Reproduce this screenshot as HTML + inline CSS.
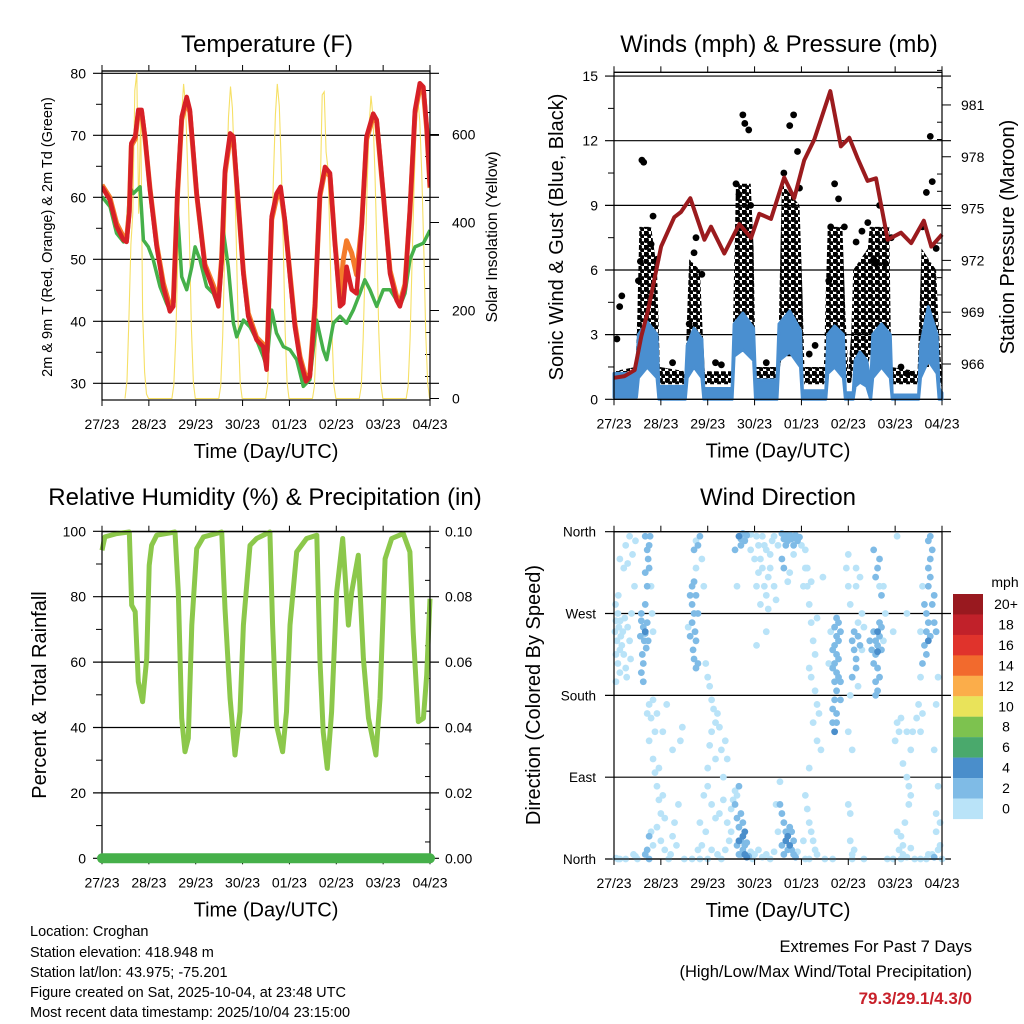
<!DOCTYPE html>
<html><head><meta charset="utf-8">
<style>
html,body{margin:0;padding:0;background:#fff;}
svg{display:block;font-family:"Liberation Sans",Arial,sans-serif;}
</style></head>
<body>
<svg id="chart" width="1024" height="1024" viewBox="0 0 1024 1024" xmlns="http://www.w3.org/2000/svg">
<defs>
<pattern id="dots" patternUnits="userSpaceOnUse" width="7" height="7">
<circle cx="2" cy="2" r="3" fill="#000"/>
<circle cx="5.5" cy="5.5" r="2.4" fill="#000"/>
</pattern>
</defs>
</svg>
<script>
// ---------- DATA ----------
const dayLabels = ["27/23","28/23","29/23","30/23","01/23","02/23","03/23","04/23"];
const tempHours = [0,4,7.5,11,12.6,14,15,17,18.6,20.3,22,24.6,28,31.4,34.8,36.5,38.6,40.8,43.4,45,48.5,52.7,57,59.6,61.3,63,65.6,67.3,69.8,72.4,74.9,79.2,82.6,84.3,86.9,89.4,91.5,93.7,96.3,98.8,101.4,104.5,106.5,109.1,111.6,114.2,116.8,119.3,121.9,123.6,125.3,127.9,130.4,133,135.5,138.9,140.7,144.1,147.5,150.9,152.6,155.2,157.7,160.3,162.8,164.6,166.3,168];
const tempRed = [61.7,59.6,55.3,53.1,52.8,57.4,68.7,69.8,74.1,74.1,69.8,61.2,52,45.6,41.6,42.4,60.6,73,76.2,74.1,60.6,48.8,45.1,42.4,49.9,64.4,70.3,69.8,59,47.7,40.8,37,35.9,32.2,56.9,60.6,61.7,56.3,47.2,39.1,33.8,30.3,31.1,42.4,60.6,64.9,63.9,52.6,42.4,42.9,48.8,45.1,44.5,55.3,69.8,73.5,72.5,60.6,47.7,43.4,42.4,45.6,58,74.1,78.4,77.8,71.4,61.7];
const tempOrange = [62,60,55.8,53.6,53.3,57.8,68.3,69.4,73.6,73.8,69.5,61.4,52.4,46.2,42.4,43.1,60.2,72.5,75.6,73.7,60.4,49.2,45.8,43.4,50.3,63.8,69.6,69.2,58.8,48,41.3,37.4,36.3,32.8,56.4,59.8,61,56,47.6,39.6,34.3,30.8,31.6,42.8,60.2,64.3,63.4,52.8,43.6,50,53,51,47.5,55.6,69.3,73,72.1,60.4,48.2,44,43,46,57.6,73.6,77.6,77.2,71,61.5];
const dewHours = [0,4.1,7.5,11,12.6,14.3,16,19.5,21.2,23.7,26.3,29.7,33.1,34.8,36.5,38.6,40.8,43.4,46,47.7,50.2,53.6,57,59.6,62.1,64.7,67.3,69,72.4,75.8,79.2,82.6,84.3,86.9,89.4,92.9,96.3,99.7,103.1,106.5,109.9,113.3,115.1,118.5,121.9,125.3,128.7,132.1,134.6,137.2,140.7,144.1,147.5,150.9,152.6,155.2,157.7,160.3,164.6,168];
const dewVals = [60.1,58.5,54.2,52.8,53.1,61.7,60.6,61.7,53.1,52,49.9,45.6,42.9,41.8,43.4,58,47.2,45.1,48.8,52,49.9,45.6,44.5,42.4,54.7,48.8,39.7,37.5,40.2,39.1,37,34.3,32.7,41.8,38.1,35.9,35.4,33.8,29.5,30.6,40.2,35.4,33.8,39.7,40.8,39.7,41.8,44.5,46.7,45.1,42.4,45.1,45.1,43.4,42.4,44.5,49.9,52,52.6,54.7];
const solarHours = [11.8,12.8,13.8,14.8,15.8,16.8,17.8,18.8,19.8,20.8,21.8,22.8,23.8,
 35.8,36.8,37.8,38.8,39.8,40.8,41.8,42.8,43.8,44.8,45.8,46.8,47.8,
 59.8,60.8,61.8,62.8,63.8,64.8,65.8,66.8,67.8,68.8,69.8,70.8,71.8,
 83.8,84.8,85.8,86.8,87.8,88.8,89.8,90.8,91.8,92.8,93.8,94.8,95.8,
 107.8,108.8,109.8,110.8,111.8,112.8,113.8,114.8,115.8,116.8,117.8,118.8,119.8,
 131.8,132.8,133.8,134.8,135.8,136.8,137.8,138.8,139.8,140.8,141.8,142.8,143.8,
 155.8,156.8,157.8,158.8,159.8,160.8,161.8,162.8,163.8,164.8,165.8,166.8,167.8];
const solarVals = [0,40,180,350,420,700,740,420,650,200,60,10,0,
 0,30,140,320,500,645,715,665,535,360,160,35,0,
 0,28,142,320,496,640,709,660,530,355,156,35,0,
 0,30,140,322,500,645,715,665,535,358,157,36,0,
 0,28,140,310,480,690,697,560,520,350,150,30,0,
 0,28,138,310,480,620,688,640,516,344,150,34,0,
 0,27,136,305,475,610,678,630,508,339,150,34,0];
const presHours = [0,5.5,10.6,14.0,17.4,24.1,30.9,34.3,39.1,46.3,49.7,56.5,64.2,70.2,74.4,80.4,87.2,92.3,97.4,102.6,110.8,116.2,120.5,124.8,129.9,134.2,140.2,147.0,152.2,158.7,162.5,168];
const presVals = [965.2,965.3,965.65,967.6,969.1,972.8,974.5,974.8,975.6,973.2,973.95,972.4,974.1,973.3,974.7,974.4,976.8,975.6,977.8,979,981.8,978.6,979.1,977.9,976.6,976.75,973.2,973.6,973,974.3,972.8,973.5];
const windHours = [0,11.5,12.5,17,22,23,36.5,37.5,41,45,46,60.5,61.5,66,71.5,72.5,83.5,84.5,90,95.5,96.5,108.5,109.5,113,117.5,118.5,122.5,123.5,126,129.5,131.5,132.5,137,141.5,142.5,156,157,161,165.5,166.5,168];
const windHi = [1.2,1.2,3,3.6,3,0.6,0.6,2.5,3.3,2.8,0.5,0.5,3.5,4,3.3,0.9,0.9,3.5,4.1,3.2,0.4,0.4,3,3.4,3,0.3,0.3,1.8,2.2,1.8,0.6,3,3.5,3,0.2,0.2,2.5,4.3,3,0.5,0.3];
const windLo = [0.1,0.1,1,1.5,1,0,0,1,1.5,1,0,0,2,2.3,1.8,0,0,1.8,2.2,1.5,0,0,1.2,1.5,1,0,0,0.6,0.8,0.6,0,1,1.5,1,0,0,1,1.8,1.2,0,0];
const gustHours = [0,11,12,13,19,22,23.5,36.5,37.5,38.5,44,45.5,46.5,60.5,61.5,62.5,70,71.5,72.5,84,85,86,95,96.5,97.5,107.5,108.5,109.5,117,118.5,120,121.5,122.5,130,131,141,142,155.5,156.5,157.5,165,166.5,168];
const gustLo = [0.7,0.7,1,2,2,1.5,0.7,0.7,1,1.5,1.5,1,0.7,0.7,1.5,2.5,2.5,1.5,0.7,0.7,1.5,2,2,1.5,0.7,0.7,1,2,2,1,0.7,0.8,1.5,1.5,2,2,0.7,0.7,1,1.5,1.5,1,0.5];
const gustHi = [1.3,1.5,4,8,8,6,1.5,1.3,4,6.5,6,3,1.3,1.3,6,10,10,7,1.5,1.5,6,10,9,5,1.5,1.5,5,8,8,4,1.3,3,6,7,8,8,1.5,1.3,4,7,6,3,1];
const gustObsHours = [2.9,4,1.5,13.5,14.3,15.2,20,22,12.5,19,41,42,38.5,45,66,67,69,64,62.5,70,92,90,94,87,95,115,113,111,118,110,134,133,142,130,136,139,162,160,163,158,165,30,52,55,78,100,103,147,150,124,127];
const gustObsVals = [4.3,4.8,2.8,6.4,11.1,11,8.5,6.5,5.5,7.2,6.8,7.5,3.5,5.8,13.2,12.8,12.5,9.5,10,9,13.2,12.7,11.5,10.5,9.8,9.3,10,8,8,5.5,6.3,6.5,7.5,8.2,9,6.3,12.2,9.6,10.1,8,7,1.7,1.7,1.6,1.7,2.1,2.5,1.5,1.2,7.3,7.8];
const rhHours = [0,1.5,7.5,14,15.2,17,18.6,20.8,22.9,24.2,25.4,28,37.4,39.1,40.8,42.5,44.2,46,48.5,52,61.3,63,65.6,68.1,70.7,72.4,75.8,79.2,86,87.4,89.4,92.5,94.5,96.3,99.7,104.8,110,111.6,113.3,115.4,117.6,120.2,123.3,124.5,126.2,127.9,131.3,133.9,136.5,140.3,142.4,145,148.4,154.3,157.7,159.4,162,164.6,166.3,168];
const rhVals = [94.2,98.3,99.3,99.8,77.4,75.4,54,47.9,61.1,89.6,95.7,98.8,99.8,81.5,42.8,32.6,36.7,71.3,94.7,98.3,99.8,76.4,48.9,31.6,44.8,71.3,95.7,97.8,99.8,71.3,40.7,32.6,44.8,71.3,93.7,97.8,98.8,61.1,38.7,27.5,44.8,81.5,97.8,86.6,71.3,81.5,92.7,61.1,42.8,31.6,48.9,91.6,97.8,99.3,93.7,69.2,41.8,42.8,56,79.4];
const precipHours = [0,168];
const precipVals = [0,0];
const dirObs = [
[0.5,250,0],[1,262,0],[1.5,240,0],[2,270,0],[2.5,255,0],[3,230,0],[3.5,245,0],[1,225,0],[2,215,0],[3,205,1],[4,235,0],[0.8,280,0],[2.2,290,0],[3.2,262,0],[4.5,250,0],[5,225,0],[6,210,0],[5.5,265,0],[7,255,0],[8,240,0],[8.5,220,0],[6.5,200,0],[9,270,0],[1,195,0],
[6,345,0],[8,355,0],[7,325,0],[9.5,335,0],[10.5,300,0],[11,350,0],[5,320,0],[3,330,0],[10,5,0],[11,3,0],[2,0,0],[1,1,0],
[14,262,3],[15,255,3],[16,248,3],[15.5,240,3],[16.5,232,3],[14.5,225,3],[15,215,2],[14,205,3],[15,195,3],[16,250,4],[17,260,2],[17.5,240,2],[13.5,245,2],[14,270,2],[16,280,2],[17,300,3],[16,315,2],[17.5,330,3],[18,345,2],[16,355,3],[18.5,355,2],[17,340,3],[18,320,2],[19,300,0],[19.5,270,0],[20,250,0],
[17,160,0],[18,170,0],[19,155,0],[20,175,0],[21,140,0],[22,160,0],[18,130,0],[20,110,0],[21,95,0],[22,80,0],[23,65,0],[24,50,0],[25,70,0],[26,45,0],[19,30,0],[20,15,0],[22,35,0],[24,20,0],[26,10,0],[28,0,0],[29,5,0],[30,25,0],[31,40,0],[32,15,0],[17,10,2],[18,25,2],[16,5,2],[18,0,2],[33,60,0],[34,130,0],[35,145,0],[30,120,0],[27,170,0],[25,140,0],[23,100,0],
[39,290,3],[40,280,3],[41,270,3],[40,260,3],[41.5,250,3],[42,240,3],[40.5,230,3],[41,220,3],[42,210,3],[43,215,2],[40,300,2],[41,305,3],[42,290,2],[43,270,2],[39,245,2],[38,255,0],[42,320,0],[41,340,3],[43,345,3],[44,355,2],[42,350,0],[45,330,0],[46,300,0],
[47,215,0],[48,200,0],[49,190,0],[50,175,0],[51,165,0],[52,150,0],[53,160,0],[54,145,0],[50,140,0],[49,125,0],[48,100,0],[52,110,0],[55,120,0],[57,130,0],[58,110,0],[56,90,0],[46,70,0],[48,80,0],[50,60,0],[52,45,0],[54,50,0],[56,65,0],[58,40,0],[59,20,0],[60,30,0],[47,30,0],[45,15,0],[50,10,0],[53,5,0],[55,0,0],[57,10,0],[44,40,0],[43,10,0],
[64,355,4],[65,352,3],[66,358,3],[67,350,3],[68,356,3],[62,340,3],[63,300,0],[65,345,2],[70,357,0],
[62,60,2],[63,45,2],[64,35,3],[65,20,3],[66,10,3],[67,5,4],[68,2,4],[66,25,4],[64,20,4],[65,50,3],[63,70,0],[62,75,0],[61,65,0],[60,55,0],[64,80,3],[67,15,3],[69,3,3],[70,8,0],[71,0,0],[72,5,0],[65,5,3],[66,40,3],[67,30,4],[68,18,3],[63,15,3],[64,5,3],
[73,355,0],[74,345,0],[75,330,0],[76,320,0],[77,300,0],[78,290,0],[79,310,0],[80,335,0],[81,350,0],[76,355,0],[78,340,0],[80,320,0],[82,300,0],[83,285,0],[74,315,0],[72,330,0],[70,340,0],[79,275,0],[75,280,0],[77,345,0],[82,355,0],[84,345,0],[73,300,0],[74,10,0],[76,2,0],[78,5,0],[80,0,0],[82,8,0],[78,250,0],[73,235,0],
[86,358,3],[87,352,3],[88,356,3],[89,350,3],[90,357,3],[91,352,2],[92,345,2],[93,356,3],[94,350,3],[95,354,2],[86,330,3],[87,320,3],[88,345,3],[89,305,0],[90,315,0],[92,335,0],[96,345,0],
[85,60,2],[86,50,2],[87,40,3],[88,30,3],[89,25,4],[90,15,4],[91,10,3],[92,5,3],[93,2,3],[89,10,3],[90,35,3],[88,20,4],[87,5,3],[86,15,2],[84,30,0],[83,60,0],[85,85,0],[91,30,3],[92,20,3],[94,8,0],
[98,320,0],[99,300,0],[100,280,0],[101,260,0],[102,240,0],[103,225,0],[100,210,0],[101,200,0],[103,185,0],[104,170,0],[105,160,0],[102,150,0],[104,130,0],[106,120,0],[100,100,0],[99,320,0],[98,340,0],[97,300,0],[101,305,0],[104,265,0],[107,310,0],[98,70,0],[99,55,0],[100,40,0],[101,30,0],[102,20,0],[103,10,0],[104,5,0],[100,0,0],[98,0,0],[97,20,0],
[113,255,3],[114,245,3],[113,235,3],[114,225,3],[113,215,3],[114,205,3],[113,195,3],[114,185,3],[113,175,3],[112,165,3],[114,160,3],[112,150,3],[115,260,3],[115,240,3],[115,220,3],[115,200,3],[114,265,3],[112,230,3],[112,210,3],[116,250,2],[116,195,2],[116,175,2],[113,140,4],[114,150,3],[111,250,0],[110,215,0],
[122,240,2],[123,230,2],[124,220,2],[125,245,2],[126,235,2],[123,250,2],[124,210,2],[122,200,2],[125,260,0],[127,270,0],[121,280,0],[120,300,0],[124,300,0],[126,310,0],[128,255,0],[127,230,0],[121,180,0],[120,140,0],[122,120,0],[125,190,0],[119,320,0],[120,335,0],[124,320,0],[123,10,0],[122,5,0],[122,0,0],[121,20,0],[121,50,0],[120,60,0],
[133,250,3],[134,240,3],[135,235,3],[136,245,3],[134,225,3],[133,215,3],[135,210,3],[136,200,3],[134,195,3],[135,185,3],[137,255,3],[136,260,3],[135,250,4],[135,228,4],[137,230,3],[132,230,2],[131,240,2],[138,240,0],[134,180,3],[136,300,0],[135,320,3],[136,330,3],[134,310,3],[137,290,3],[139,270,0],[138,300,0],[133,340,3],
[145,150,0],[146,140,0],[147,155,0],[144,130,0],[150,90,0],[151,80,0],[152,70,0],[151,60,0],[148,105,0],[149,40,0],[147,25,0],[148,15,0],[145,30,0],[146,10,0],[147,0,0],[148,5,0],[150,2,0],[152,12,0],[150,140,0],[153,140,0],[152,120,0],[155,155,0],[143,250,0],[150,270,0],[145,355,0],
[159,280,3],[160,270,3],[161,260,3],[160,250,3],[161,240,4],[162,245,3],[159,235,3],[160,225,3],[158,215,3],[161,300,3],[162,310,3],[161,320,3],[162,330,3],[163,340,3],[161,350,3],[162,355,3],[163,280,2],[164,260,2],[165,250,2],[164,290,2],[158,300,0],[157,250,0],[157,200,0],[156,170,0],[158,160,0],[157,140,0],[166,200,0],[165,170,0],[164,120,0],[166,80,0],[165,50,0],[165,30,0],[163,5,0],[164,2,2],[166,10,0],[167,15,0],[167,40,0],[160,0,0],[161,5,0],
[3,0,0],[6,0,0],[12,0,0],[36,0,0],[40,0,0],[44,0,0],[48,0,0],[108,0,0],[112,0,0],[128,0,0],[140,0,0],[143,0,0],[154,0,0],[157,0,0],[168,0,0]
];
const speedBins = ["0","2","4","6","8","10","12","14","16","18","20+"];
const speedColors = ["#b9e3f8","#7fbbe6","#4a8ecb","#4aa96c","#7dc24f","#e9e35a","#fbad4a","#f26a2d","#e0332c","#c1212a","#99191f"];

// ---------- SCALES ----------
const X1 = h => 102 + h*328/168;
const X2 = h => 614 + h*328/168;
const yT = t => 73.3 + (80 - t)*6.2;
const ySol = v => 398.5 - v*0.44;
const yW = v => 399.3 - v*21.55;
const yP = p => 364 - (p - 966)*17.27;
const yRH = r => 858.3 - r*3.27;
const yPr = v => 858.3 - v*3270;
const yDir = d => 859 - d*327.3/360;

// ---------- HELPERS ----------
const NS = "http://www.w3.org/2000/svg";
const svg = document.getElementById("chart");
function mk(tag, attrs, parent){
  const e = document.createElementNS(NS, tag);
  for (const k in attrs) e.setAttribute(k, attrs[k]);
  (parent || svg).appendChild(e);
  return e;
}
function txt(x, y, s, size, anchor, rot, parent){
  const e = mk("text", {x:x, y:y, "font-size":size, "text-anchor":anchor||"middle", fill:"#000"}, parent);
  if (rot) e.setAttribute("transform", "rotate(" + rot + " " + x + " " + y + ")");
  e.textContent = s;
  return e;
}
function pathFrom(xs, ys, fx, fy){
  let d = "";
  for (let i = 0; i < xs.length; i++) d += (i ? "L" : "M") + fx(xs[i]).toFixed(1) + " " + fy(ys[i]).toFixed(1);
  return d;
}
function bandFrom(xs, lo, hi, fx, fy){
  let d = "";
  for (let i = 0; i < xs.length; i++) d += (i ? "L" : "M") + fx(xs[i]).toFixed(1) + " " + fy(hi[i]).toFixed(1);
  for (let i = xs.length - 1; i >= 0; i--) d += "L" + fx(xs[i]).toFixed(1) + " " + fy(lo[i]).toFixed(1);
  return d + "Z";
}
function speedColor(s){
  let i = Math.floor(s/2);
  if (i > 10) i = 10;
  return speedColors[i];
}
function frame(g, x0, x1, yTop, yBot, fx, prefix){
  const r = mk("rect", {x:x0, y:yTop, width:x1-x0, height:yBot-yTop, fill:"none", stroke:"#000", "stroke-width":1.2}, g);
  
  
  for (let d = 0; d < dayLabels.length; d++){
    const x = fx(d*24);
    const tb = mk("line", {x1:x, x2:x, y1:yBot, y2:yBot+6, stroke:"#000", "stroke-width":1}, g);
    
    
    const tt = mk("line", {x1:x, x2:x, y1:yTop, y2:yTop-6, stroke:"#000", "stroke-width":1}, g);
    
    
    const lb = txt(x, yBot+29, dayLabels[d], 14, "middle", 0, g);
    
    
  }
  const xt = txt((x0+x1)/2, yBot+58, "Time (Day/UTC)", 20, "middle", 0, g);
  
  
}
function hgrid(g, x0, x1, y, prefix){
  const l = mk("line", {x1:x0-9, x2:x1+9, y1:y, y2:y, stroke:"#000", "stroke-width":1.2}, g);
  
  
}
function tick(g, x, y, len, prefix){
  const l = mk("line", {x1:x, x2:x+len, y1:y, y2:y, stroke:"#000", "stroke-width":1}, g);
  
  
}

// ================= PANEL 1 =================
const p1 = mk("g", {});


let t = txt(267, 52, "Temperature (F)", 24, "middle", 0, p1);


mk("line", {x1:102, x2:430, y1:71, y2:71, stroke:"#000", "stroke-width":1.2}, p1);
for (let v = 30; v <= 80; v += 10){
  hgrid(p1, 102, 430, yT(v), "temperature");
  const l = txt(86, yT(v)+5, String(v), 14, "end", 0, p1);
  
  
}
for (let v = 35; v <= 75; v += 10) tick(p1, 102, yT(v), -6, "temperature");
for (let v = 0; v <= 700; v += 50) tick(p1, 430, ySol(v), v % 200 === 0 ? 9 : -5, "solar");
for (let v = 0; v <= 600; v += 200){
  const l = txt(452, ySol(v)+5, String(v), 14, "start", 0, p1);
  
  
}
t = txt(52, 237, "2m & 9m T (Red, Orange) & 2m Td (Green)", 14.5, "middle", -90, p1);


t = txt(497, 237, "Solar Insolation (Yellow)", 16, "middle", -90, p1);


const clip1 = mk("clipPath", {id:"c1"}, p1);
mk("rect", {x:102, y:71, width:328, height:329}, clip1);
const p1d = mk("g", {"clip-path":"url(#c1)"}, p1);
let s = mk("path", {d:pathFrom(solarHours, solarVals, X1, ySol), fill:"none", stroke:"#f6e066", "stroke-width":1.1}, p1d);


s = mk("path", {d:pathFrom(dewHours, dewVals, X1, yT), fill:"none", stroke:"#45b04a", "stroke-width":3.5, "stroke-linejoin":"round"}, p1d);


s = mk("path", {d:pathFrom(tempHours, tempOrange, X1, yT), fill:"none", stroke:"#f47b2a", "stroke-width":5, "stroke-linejoin":"round"}, p1d);


s = mk("path", {d:pathFrom(tempHours, tempRed, X1, yT), fill:"none", stroke:"#d72027", "stroke-width":4.5, "stroke-linejoin":"round"}, p1d);


frame(p1, 102, 430, 71, 400, X1, "temperature");

// ================= PANEL 2 =================
const p2 = mk("g", {});


t = txt(779, 52, "Winds (mph) & Pressure (mb)", 24, "middle", 0, p2);


mk("line", {x1:614, x2:942, y1:72.3, y2:72.3, stroke:"#000", "stroke-width":1.2}, p2);
for (let v = 0; v <= 15; v += 3){
  hgrid(p2, 614, 942, yW(v), "winds");
  const l = txt(598, yW(v)+5, String(v), 14, "end", 0, p2);
  
  
}
for (let v = 1.5; v < 15; v += 3) tick(p2, 614, yW(v), -6, "winds");
for (let p = 965; p <= 983; p += 1) tick(p2, 942, yP(p), (p - 966) % 3 === 0 ? 9 : -5, "pressure");
for (let p = 966; p <= 981; p += 3){
  const l = txt(961, yP(p)+5, String(p), 14, "start", 0, p2);
  
  
}
t = txt(563, 237, "Sonic Wind & Gust (Blue, Black)", 20, "middle", -90, p2);


t = txt(1014, 237, "Station Pressure (Maroon)", 20, "middle", -90, p2);


const clip2 = mk("clipPath", {id:"c2"}, p2);
mk("rect", {x:608, y:72, width:340, height:334}, clip2);
const p2d = mk("g", {"clip-path":"url(#c2)"}, p2);
s = mk("path", {d:bandFrom(gustHours, gustLo, gustHi, X2, yW), fill:"url(#dots)", stroke:"none"}, p2d);


for (let i = 0; i < gustObsHours.length; i++){
  const c = mk("circle", {cx:X2(gustObsHours[i]), cy:yW(gustObsVals[i]), r:3.4, fill:"#000"}, p2d);
  
  
}
s = mk("path", {d:bandFrom(windHours, windLo, windHi, X2, yW), fill:"#4a8fd0", stroke:"#4a8fd0", "stroke-width":3, "stroke-linejoin":"round"}, p2d);


s = mk("path", {d:pathFrom(presHours, presVals, X2, yP), fill:"none", stroke:"#9b1b1e", "stroke-width":4, "stroke-linejoin":"round"}, p2d);


frame(p2, 614, 942, 72.3, 399.3, X2, "winds");

// ================= PANEL 3 =================
const p3 = mk("g", {});


t = txt(265, 505, "Relative Humidity (%) & Precipitation (in)", 24, "middle", 0, p3);


for (let v = 0; v <= 100; v += 20){
  hgrid(p3, 102, 430, yRH(v), "humidity");
  const l = txt(86, yRH(v)+5, String(v), 14, "end", 0, p3);
  
  
  const r = txt(445, yRH(v)+5, (v/1000).toFixed(2), 14, "start", 0, p3);
  
  
}
for (let v = 10; v < 100; v += 20) tick(p3, 102, yRH(v), -6, "humidity");
for (let v = 5; v < 100; v += 10) tick(p3, 430, yRH(v), -5, "precip");
t = txt(46, 695, "Percent & Total Rainfall", 20, "middle", -90, p3);


s = mk("path", {d:pathFrom(rhHours, rhVals, X1, yRH), fill:"none", stroke:"#8cc84b", "stroke-width":5, "stroke-linejoin":"round"}, p3);


frame(p3, 102, 430, 531.7, 858.3, X1, "humidity");
s = mk("path", {d:pathFrom(precipHours, precipVals, X1, yPr), fill:"none", stroke:"#46b04a", "stroke-width":10, "stroke-linecap":"round"}, p3);



// ================= PANEL 4 =================
const p4 = mk("g", {});


t = txt(778, 505, "Wind Direction", 24, "middle", 0, p4);


const dirNames = ["North","East","South","West","North"];
for (let i = 0; i < 5; i++){
  hgrid(p4, 614, 942, yDir(i*90), "direction");
  const l = txt(596, yDir(i*90)+5, dirNames[i], 13.5, "end", 0, p4);
  
  
}
t = txt(540, 695, "Direction (Colored By Speed)", 20, "middle", -90, p4);


const clip4 = mk("clipPath", {id:"c4"}, p4);
mk("rect", {x:608, y:526, width:340, height:340}, clip4);
const p4d = mk("g", {"clip-path":"url(#c4)"}, p4);
const sorted = dirObs.slice().sort((a,b) => a[2]-b[2]);
for (let i = 0; i < sorted.length; i++){
  const o = sorted[i];
  const c = mk("circle", {cx:X2(o[0]), cy:yDir(o[1]), r:3.4, fill:speedColor(o[2])}, p4d);
  
  
}
frame(p4, 614, 942, 531.7, 859, X2, "direction");

const lg = mk("g", {});


t = txt(1005, 587, "mph", 14, "middle", 0, lg);


for (let i = 0; i < 11; i++){
  const k = 10 - i;
  const y = 594 + i*20.45;
  const r = mk("rect", {x:953, y:y, width:30, height:20.6, fill:speedColors[k]}, lg);
  
  
  const l = txt(1006, y+15, speedBins[k], 14, "middle", 0, lg);
  
  
}

// ================= FOOTER =================
const info = ["Location: Croghan","Station elevation: 418.948 m","Station lat/lon: 43.975; -75.201","Figure created on Sat, 2025-10-04, at 23:48 UTC","Most recent data timestamp: 2025/10/04 23:15:00"];
const infoY = [936,957,977,997,1017];
for (let i = 0; i < info.length; i++){
  const l = txt(30, infoY[i], info[i], 14.5, "start", 0);
  
  
}
t = txt(972, 952, "Extremes For Past 7 Days", 16.5, "end", 0);


t = txt(972, 977, "(High/Low/Max Wind/Total Precipitation)", 16.5, "end", 0);


t = txt(972, 1004, "79.3/29.1/4.3/0", 17, "end", 0);
t.setAttribute("fill", "#c8202a");
t.setAttribute("font-weight", "bold");


</script>
</body></html>
